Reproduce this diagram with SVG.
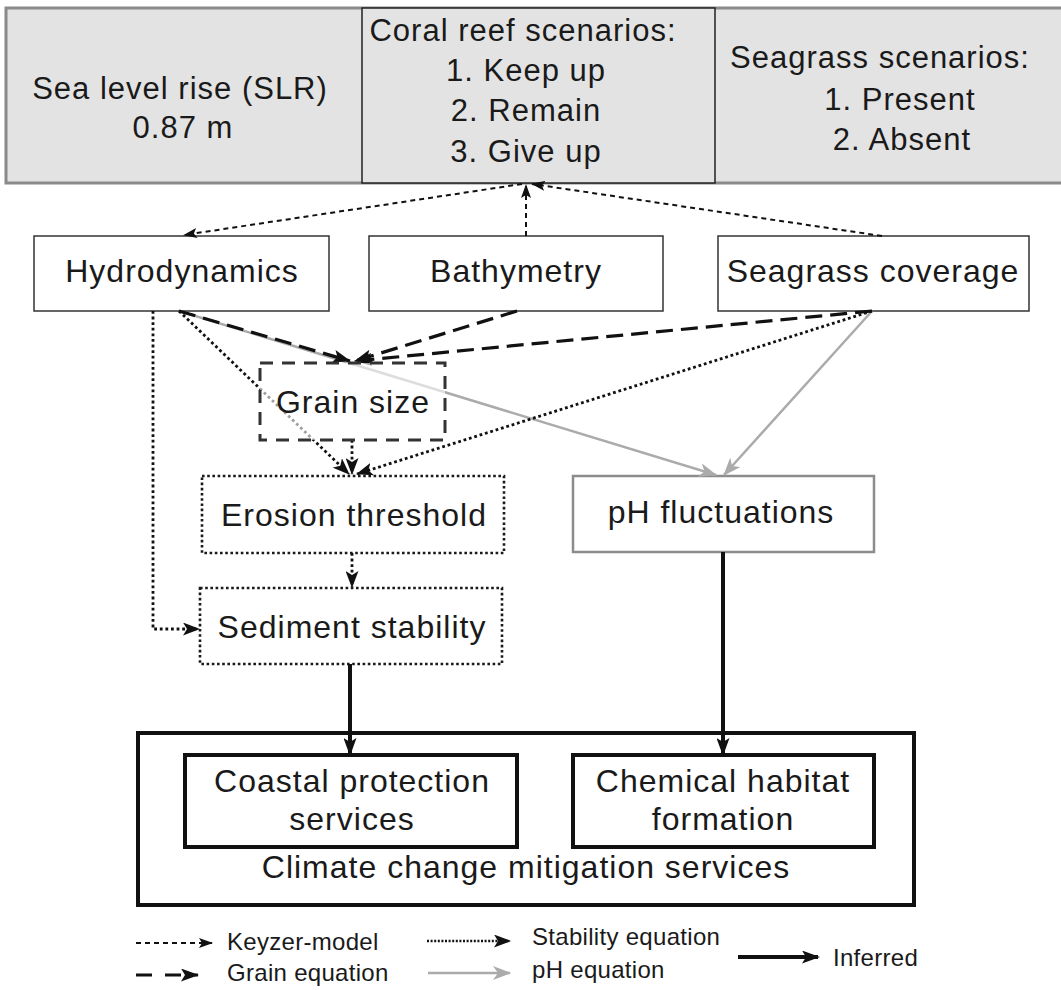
<svg xmlns="http://www.w3.org/2000/svg" width="1061" height="990" viewBox="0 0 1061 990">
<defs>
<style>
text{font-family:"Liberation Sans",Arial,sans-serif;fill:#1a1a1a;text-anchor:middle;}
.t{font-size:31px;letter-spacing:1px;}
.n{font-size:32px;letter-spacing:1px;}
.lg{font-size:24px;text-anchor:start;letter-spacing:0.3px;}
.box{fill:#fff;stroke:#333;stroke-width:1.5;}
.dot{fill:#fff;stroke:#1a1a1a;stroke-width:2.6;stroke-dasharray:2.6 2.6;}
.thick{fill:#fff;stroke:#111;stroke-width:4;}
.kz{fill:none;stroke:#111;stroke-width:2;stroke-dasharray:5 4;marker-end:url(#mkz);}
.gr{fill:none;stroke:#111;stroke-width:3.2;stroke-dasharray:17 8;marker-end:url(#mgr);}
.st{fill:none;stroke:#111;stroke-width:2.8;stroke-dasharray:2.8 2.8;marker-end:url(#mst);}
.ph{fill:none;stroke:#ababab;stroke-width:2.5;marker-end:url(#mph);}
.inf{fill:none;stroke:#111;stroke-width:4;marker-end:url(#minf);}
</style>
<marker id="mkz" markerUnits="userSpaceOnUse" markerWidth="14" markerHeight="10" refX="13" refY="5" orient="auto"><path d="M0,0 L14,5 L0,10 L3,5 z" fill="#111"/></marker>
<marker id="mgr" markerUnits="userSpaceOnUse" markerWidth="18" markerHeight="13" refX="17" refY="6.5" orient="auto"><path d="M0,0 L18,6.5 L0,13 L4,6.5 z" fill="#111"/></marker>
<marker id="mst" markerUnits="userSpaceOnUse" markerWidth="17" markerHeight="13" refX="16" refY="6.5" orient="auto"><path d="M0,0 L17,6.5 L0,13 L4,6.5 z" fill="#111"/></marker>
<marker id="mph" markerUnits="userSpaceOnUse" markerWidth="18" markerHeight="14" refX="17" refY="7" orient="auto"><path d="M0,0 L18,7 L0,14 L5,7 z" fill="#ababab"/></marker>
<marker id="minf" markerUnits="userSpaceOnUse" markerWidth="18" markerHeight="13" refX="16" refY="6.5" orient="auto"><path d="M0,0 L18,6.5 L0,13 L4,6.5 z" fill="#111"/></marker>
</defs>
<rect width="1061" height="990" fill="#fff"/>

<g id="scenario-band">
<rect x="6" y="8" width="1070" height="175" fill="#e3e3e3" stroke="#8a8a8a" stroke-width="3"/>
</g>
<g id="slr">
<text class="t" x="180" y="99">Sea level rise (SLR)</text>
<text class="t" x="183" y="138">0.87 m</text>
</g>
<g id="coral">
<rect x="362" y="8" width="353" height="175" fill="#e3e3e3" stroke="#222" stroke-width="1.5"/>
<text class="t" x="523" y="41">Coral reef scenarios:</text>
<text class="t" x="526" y="81">1. Keep up</text>
<text class="t" x="526" y="121">2. Remain</text>
<text class="t" x="526" y="162">3. Give up</text>
</g>
<g id="seagrass-scenarios">
<text class="t" x="880" y="68">Seagrass scenarios:</text>
<text class="t" x="900" y="110">1. Present</text>
<text class="t" x="902" y="150">2. Absent</text>
</g>

<g id="hydrodynamics"><rect class="box" x="34" y="236" width="295" height="75"/><text class="n" x="182" y="282">Hydrodynamics</text></g>
<g id="bathymetry"><rect class="box" x="369" y="236" width="294" height="75"/><text class="n" x="516" y="282">Bathymetry</text></g>
<g id="seagrass-coverage"><rect class="box" x="718" y="236" width="311" height="75"/><text class="n" x="873" y="282">Seagrass coverage</text></g>
<g id="erosion-threshold"><rect class="dot" x="202" y="476" width="302" height="77"/><text class="n" x="354" y="526">Erosion threshold</text></g>
<g id="sediment-stability"><rect class="dot" x="200" y="588" width="302" height="76"/><text class="n" x="352" y="638">Sediment stability</text></g>
<g id="ph-fluctuations"><rect x="573" y="476" width="301" height="76" fill="#fff" stroke="#8c8c8c" stroke-width="2.5"/><text class="n" x="721" y="523">pH fluctuations</text></g>
<g id="climate-mitigation"><rect x="138" y="733" width="776" height="172" fill="#fff" stroke="#111" stroke-width="4"/><text class="n" x="526" y="878">Climate change mitigation services</text></g>
<g id="coastal-protection"><rect class="thick" x="185" y="755" width="332" height="92"/><text class="n" x="352" y="792">Coastal protection</text><text class="n" x="352" y="830">services</text></g>
<g id="chemical-habitat"><rect class="thick" x="573" y="755" width="301" height="92"/><text class="n" x="723" y="792">Chemical habitat</text><text class="n" x="723" y="830">formation</text></g>

<g id="connectors">
<path class="ph" d="M179,311 L716,475"/>
<path class="ph" d="M872,311 L724,475"/>
<path class="kz" d="M526,236 L526,185"/>
<path class="kz" d="M882,236 L532,184"/>
<path class="kz" d="M522,184 L184,235"/>
<path class="gr" d="M179,311 L350,361"/>
<path class="gr" d="M517,311 L355,361"/>
<path class="gr" d="M872,311 L355,361"/>
<path class="st" d="M179,311 L349,474"/>
<path class="st" d="M352,440 L352,474"/>
<path class="st" d="M872,311 L357,474"/>
<path class="st" d="M153,311 L153,629 L199,629"/>
<path class="st" d="M352,553 L352,587"/>
<path class="inf" d="M350,664 L350,754"/>
<path class="inf" d="M723,552 L723,754"/>
</g>

<g id="grain-size"><rect x="260" y="363" width="185" height="77" fill="#fff" fill-opacity="0.6" stroke="#333" stroke-width="3" stroke-dasharray="13 9"/><text class="n" x="353" y="413">Grain size</text></g>

<g id="legend">
<path class="kz" d="M136,943 L212,943"/>
<text class="lg" x="227" y="950">Keyzer-model</text>
<path class="gr" d="M136,975 L198,975" style="stroke-dasharray:16 13"/>
<text class="lg" x="227" y="981">Grain equation</text>
<path class="st" d="M427,941 L510,941" style="stroke-dasharray:2 1.6;stroke-width:2.4"/>
<text class="lg" x="532" y="945">Stability equation</text>
<path class="ph" d="M428,973 L510,973"/>
<text class="lg" x="532" y="978">pH equation</text>
<path class="inf" d="M738,957 L818,957"/>
<text class="lg" x="833" y="966">Inferred</text>
</g>
</svg>
